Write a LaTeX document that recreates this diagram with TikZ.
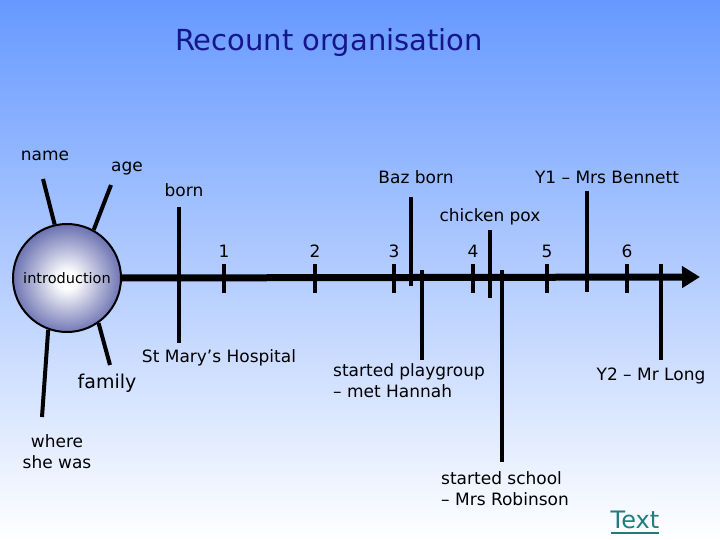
\documentclass[tikz,border=0pt]{standalone}
\usepackage{fontspec}
\setmainfont{DejaVu Sans}
\usepackage{tikz}
\usetikzlibrary{arrows.meta,calc}

\definecolor{bgtop}{RGB}{102,153,255}
\definecolor{titleblue}{RGB}{22,22,140}
\definecolor{ballblue}{RGB}{45,55,145}
\definecolor{linkteal}{RGB}{30,125,125}

\pgfdeclareradialshading{introball}{\pgfpoint{0bp}{-1bp}}{%
  color(0bp)=(white); color(4bp)=(white); color(16bp)=(ballblue!40);
  color(30bp)=(ballblue!85); color(42bp)=(ballblue); color(80bp)=(ballblue)}

\tikzset{
  event/.style={line width=4pt},
  spoke/.style={line width=4pt},
  tickmark/.style={line width=3.5pt},
  axis/.style={line width=7pt,-{Triangle[length=18pt,width=21pt]}},
  lbl/.style={font=\fontsize{17}{21}\selectfont,inner sep=0pt},
}

\begin{document}
\begin{tikzpicture}[x=1pt,y=-1pt]
%\draw[help lines] (0,0) grid (720,540);
\useasboundingbox (0,0) rectangle (720,540);
\shade[top color=bgtop,bottom color=white] (0,0) rectangle (720,540);

\node[titleblue,font=\fontsize{29}{34}\selectfont] (title) at (329,43) {Recount organisation};

% the ball
\node[circle,minimum size=108pt,draw,line width=2pt,shading=introball,
      inner sep=0pt,font=\fontsize{14.5}{17}\selectfont] (intro) at (67,278) {introduction};

% spokes
\coordinate (namept) at (43,179);
\coordinate (agept) at (111,185);
\coordinate (familypt) at (110,365);
\coordinate (wherept) at (42,417);
\draw[spoke] (intro.103) -- (namept);
\draw[spoke] (intro.61) -- (agept);
\draw[spoke] (intro.-55) -- (familypt);
\draw[spoke] (intro.-110) -- (wherept);
\node[lbl] (name) at (45,156) {name};
\node[lbl] (age) at (127,169) {age};
\node[lbl,font=\fontsize{19}{23}\selectfont] (family) at (107,383) {family};
\node[lbl,align=center] (where) at (57,452) {where\\she was};

% time line
\coordinate (axend) at (700,277);
\draw[axis] (intro.east) -- (axend);
\foreach \x/\n in {224/1,315/2,394/3,473/4,547/5,627/6}{
  \draw[tickmark] (\x,264) -- (\x,293);
  \node[lbl] (age\n) at (\x,251) {\n};
}

% events
\coordinate (born-t) at (179,207);   \coordinate (born-b) at (179,343);
\coordinate (baz-t) at (411,197);    \coordinate (baz-b) at (411,286);
\coordinate (play-t) at (422,270);   \coordinate (play-b) at (422,360);
\coordinate (pox-t) at (490,230);    \coordinate (pox-b) at (490,298);
\coordinate (school-t) at (502,270); \coordinate (school-b) at (502,462);
\coordinate (yone-t) at (587,191);   \coordinate (yone-b) at (587,292);
\coordinate (ytwo-t) at (661,264);   \coordinate (ytwo-b) at (661,360);
\draw[event] (born-t) -- (born-b);
\draw[event] (baz-t) -- (baz-b);
\draw[event] (play-t) -- (play-b);
\draw[event] (pox-t) -- (pox-b);
\draw[event] (school-t) -- (school-b);
\draw[event] (yone-t) -- (yone-b);
\draw[event] (ytwo-t) -- (ytwo-b);

\node[lbl] (born) at (184,190) {born};
\node[lbl] (hosp) at (219,358) {St Mary’s Hospital};
\node[lbl] (baz) at (416,177) {Baz born};
\node[lbl] (pox) at (490,217) {chicken pox};
\node[lbl] (yone) at (607,177) {Y1 – Mrs Bennett};
\node[lbl,align=left,anchor=west] (play) at (333,381) {started playgroup\\– met Hannah};
\node[lbl,align=left,anchor=west] (school) at (441,489) {started school\\– Mrs Robinson};
\node[lbl] (ytwo) at (651,376) {Y2 – Mr Long};

\node[lbl,linkteal,font=\fontsize{24}{28}\selectfont] (link) at (635,520) {Text};
\draw[linkteal,line width=1.6pt] ($(link.south west)+(0,4)$) -- ($(link.south east)+(0,4)$);

\end{tikzpicture}
\end{document}
